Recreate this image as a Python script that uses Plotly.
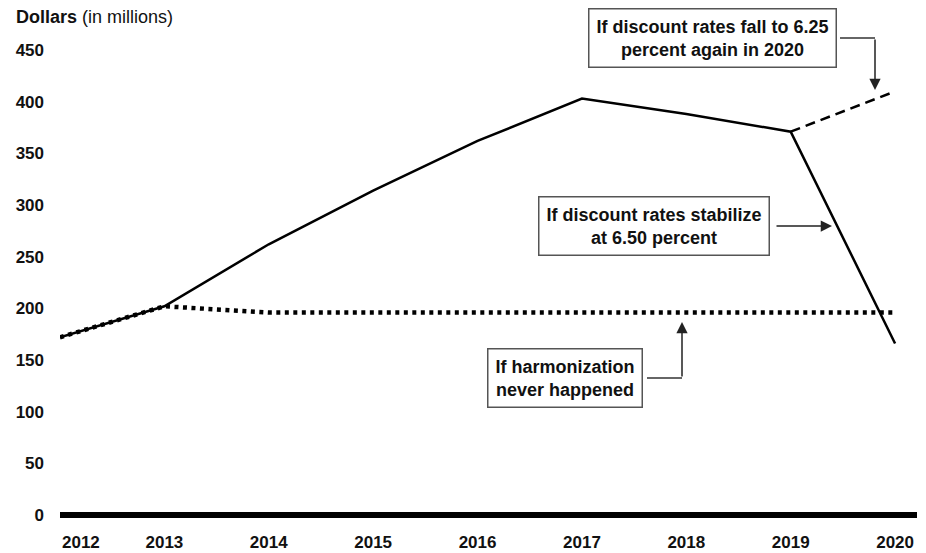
import plotly.graph_objects as go

# ---- data ----
years = [2012, 2013, 2014, 2015, 2016, 2017, 2018, 2019, 2020]
year_labels = ["2012", "2013", "2014", "2015", "2016", "2017", "2018", "2019", "2020"]
stabilize_650 = [172, 202, 262, 314, 362, 403, 388, 371, 166]
fall_625_years = [2019, 2020]
fall_625 = [371, 410]
no_harmonization = [172, 202, 196, 196, 196, 196, 196, 196, 196]
y_ticks = [0, 50, 100, 150, 200, 250, 300, 350, 400, 450]

label_fall = "If discount rates fall to 6.25<br>percent again in 2020"
label_stab = "If discount rates stabilize<br>at 6.50 percent"
label_harm = "If harmonization<br>never happened"

FONT = "Liberation Sans, Arial, sans-serif"
W, H = 926, 553
L, R, T, B = 60, 9, 40, 33
X0, X1 = 2012, 2020.21
Y0, Y1 = -4.84, 459.7
PW, PH = W - L - R, H - T - B

def px(p):  # pixel x -> paper x
    return (p - L) / PW

def py(p):  # pixel y -> paper y
    return (H - B - p) / PH

fig = go.Figure()
fig.add_trace(go.Scatter(x=years, y=no_harmonization, mode="lines",
                         line=dict(color="black", width=4.5, dash="4px,4.5px"),
                         showlegend=False, hoverinfo="skip"))
fig.add_trace(go.Scatter(x=years, y=stabilize_650, mode="lines",
                         line=dict(color="black", width=2.5),
                         showlegend=False))
fig.add_trace(go.Scatter(x=fall_625_years, y=fall_625, mode="lines",
                         line=dict(color="black", width=2.5, dash="10px,6px"),
                         showlegend=False))

box = dict(showarrow=False, font=dict(family=FONT, size=18, color="#111"),
           bordercolor="#555", borderwidth=1.5, borderpad=7, bgcolor="white",
           xref="paper", yref="paper", align="center",
           xanchor="center", yanchor="middle")
arrow = dict(xref="paper", yref="paper", text="", showarrow=True,
             arrowhead=2, arrowsize=1.5, arrowwidth=1.5, arrowcolor="#222")
conn = dict(color="#333", width=1.5)

annotations = [
    dict(text="<b>" + label_fall + "</b>", x=px(712), y=py(38.5), **box),
    dict(text="<b>" + label_stab + "</b>", x=px(653.5), y=py(225.5), **box),
    dict(text="<b>" + label_harm + "</b>", x=px(564.5), y=py(378), **box),
    dict(x=px(875), y=py(90), ax=0, ay=-52, **arrow),
    dict(x=px(832), y=py(226), ax=-57, ay=0, **arrow),
    dict(x=px(682), y=py(322), ax=0, ay=56, **arrow),
    dict(text="<b>" + year_labels[0] + "</b>", x=0, xref="paper", xanchor="left",
         y=py(542), yref="paper", yanchor="middle", showarrow=False,
         font=dict(family=FONT, size=17, color="#111")),
    dict(text="<b>Dollars</b> (in millions)", x=px(14), y=py(17),
         xref="paper", yref="paper", xanchor="left", yanchor="middle",
         showarrow=False, font=dict(family=FONT, size=18, color="#111")),
]

shapes = [
    dict(type="line", xref="paper", yref="paper", x0=px(840), y0=py(38),
         x1=px(875), y1=py(38), line=conn),
    dict(type="line", xref="paper", yref="paper", x0=px(647), y0=py(378),
         x1=px(682), y1=py(378), line=conn),
]

fig.update_layout(
    width=W, height=H,
    margin=dict(l=L, r=R, t=T, b=B, autoexpand=False),
    plot_bgcolor="white", paper_bgcolor="white",
    font=dict(family=FONT, size=17, color="#111"),
    annotations=annotations,
    shapes=shapes,
    showlegend=False,
    xaxis=dict(range=[X0, X1], tickvals=years[1:],
               ticktext=["<b>" + t + "</b>" for t in year_labels[1:]],
               showgrid=False, zeroline=False, showline=False, ticks="",
               automargin=False,
               ticklabelstandoff=10, tickfont=dict(size=17, family=FONT, color="#111")),
    yaxis=dict(range=[Y0, Y1], tickvals=y_ticks,
               ticktext=["<b>%d</b>" % v for v in y_ticks],
               showgrid=False, zeroline=True, zerolinecolor="black", zerolinewidth=6,
               showline=False, ticks="", ticklabelstandoff=15, automargin=False,
               tickfont=dict(size=17, family=FONT, color="#111")),
)

fig.write_html("out.html", config={"displayModeBar": False},
               post_script="document.body.style.margin='0';document.body.style.overflow='hidden';")
